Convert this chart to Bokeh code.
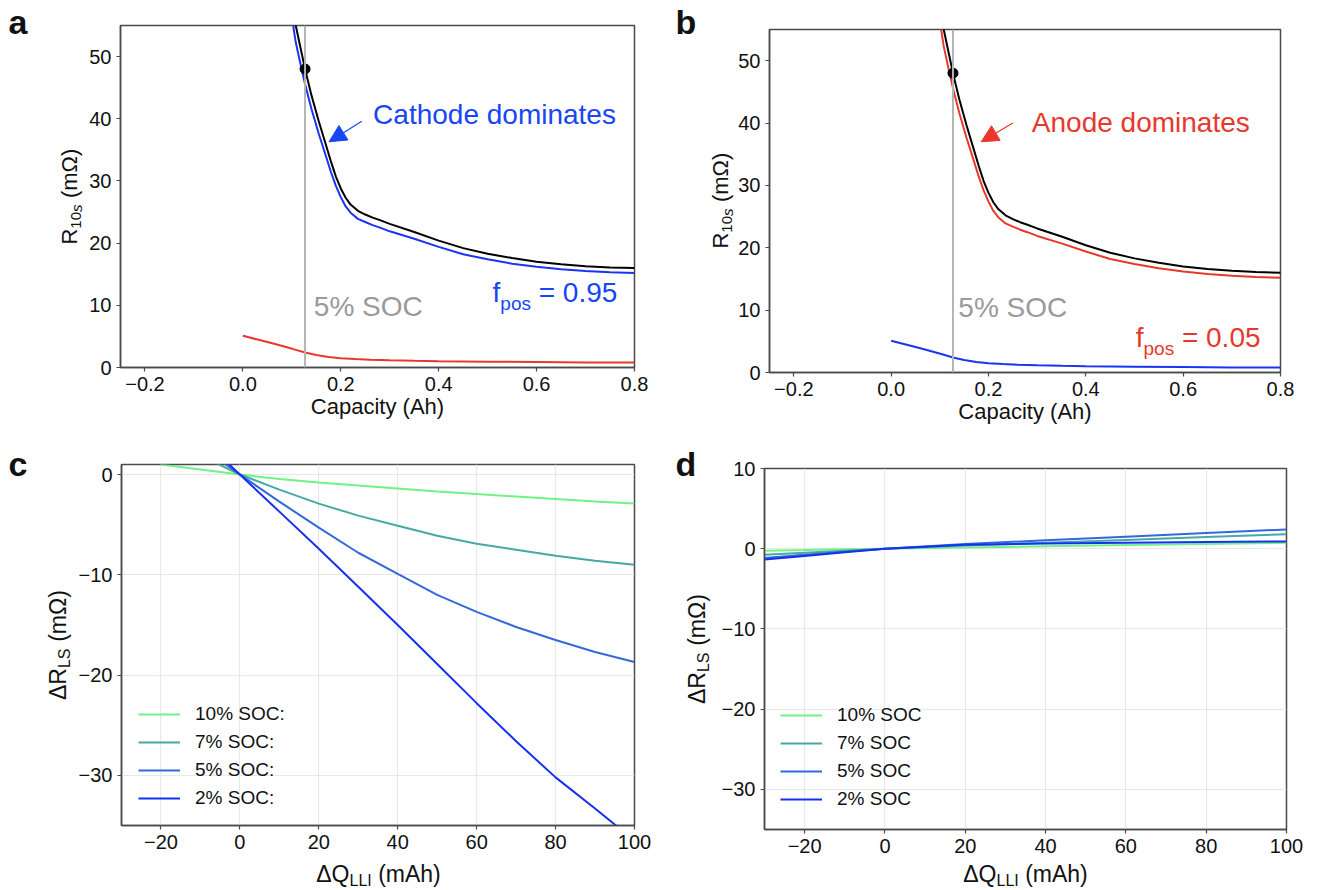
import math
from bokeh.plotting import figure
from bokeh.layouts import column, row
from bokeh.models import (Range1d, FixedTicker, CustomJSTickFormatter, Label, Span,
                          Arrow, NormalHead, Legend, LegendItem)
from bokeh.embed import file_html
from bokeh.resources import INLINE
from bokeh.core.validation import silence
from bokeh.core.validation.warnings import MISSING_RENDERERS

silence(MISSING_RENDERERS, True)

# ---------------- data ----------------
# panels a / b : 10 s resistance vs capacity
cap_total = [0.095, 0.108, 0.118, 0.127, 0.14, 0.155, 0.17, 0.18, 0.19, 0.2, 0.21, 0.22,
             0.235, 0.25, 0.265, 0.28, 0.3, 0.35, 0.4, 0.45, 0.5, 0.55, 0.6, 0.65, 0.7,
             0.75, 0.8]
r_total = [62.0, 55.0, 51.3, 48.0, 43.8, 39.6, 35.7, 33.1, 30.7, 28.8, 27.3, 26.2,
           25.2, 24.6, 24.1, 23.7, 23.1, 21.8, 20.4, 19.2, 18.3, 17.6, 17.0, 16.6, 16.3,
           16.1, 16.0]
r_major = [58.9, 52.3, 48.7, 45.6, 41.6, 37.6, 33.9, 31.4, 29.2, 27.4, 25.9, 24.9,
           23.9, 23.4, 22.9, 22.5, 21.9, 20.7, 19.4, 18.2, 17.4, 16.7, 16.2, 15.8, 15.5,
           15.3, 15.2]
cap_minor = [0.0, 0.03, 0.06, 0.09, 0.11, 0.127, 0.15, 0.175, 0.2, 0.23, 0.26, 0.3,
             0.35, 0.4, 0.5, 0.6, 0.7, 0.8]
r_minor = [5.1, 4.5, 3.9, 3.25, 2.8, 2.4, 2.0, 1.7, 1.5, 1.35, 1.25, 1.17,
           1.08, 1.02, 0.94, 0.87, 0.82, 0.80]
soc5_capacity = 0.127
soc5_resistance = 48.0
cap_ticks = [-0.2, 0.0, 0.2, 0.4, 0.6, 0.8]
r_ticks = [0, 10, 20, 30, 40, 50]

# panel c : fpos = 0.95
soc_labels_c = ["10% SOC:", "7% SOC:", "5% SOC:", "2% SOC:"]
c_x10 = [-20, -10, 0, 10, 20, 30, 40, 50, 60, 70, 80, 90, 100]
c_y10 = [1.0, 0.5, 0, -0.45, -0.8, -1.1, -1.4, -1.7, -1.95, -2.2, -2.45, -2.7, -2.9]
c_x7 = [-10, -5, 0, 10, 20, 30, 40, 50, 60, 70, 80, 90, 100]
c_y7 = [1.9, 0.95, 0, -1.5, -2.9, -4.1, -5.1, -6.1, -6.9, -7.5, -8.1, -8.6, -9.0]
c_x5 = [-5, 0, 10, 20, 30, 40, 50, 60, 70, 80, 90, 100]
c_y5 = [1.4, 0, -2.7, -5.3, -7.8, -9.9, -12.0, -13.7, -15.2, -16.5, -17.7, -18.7]
c_x2 = [-5, 0, 10, 20, 30, 40, 50, 60, 70, 80, 90, 100]
c_y2 = [1.85, 0, -3.7, -7.4, -11.2, -15.0, -18.9, -22.8, -26.6, -30.2, -33.3, -36.5]

# panel d : fpos = 0.05
soc_labels_d = ["10% SOC", "7% SOC", "5% SOC", "2% SOC"]
d_x = [-30, -20, -10, 0, 20, 40, 60, 80, 100]
d_y10 = [-0.25, -0.17, -0.08, 0, 0.15, 0.3, 0.45, 0.6, 0.75]
d_y7 = [-0.75, -0.5, -0.25, 0, 0.4, 0.75, 1.1, 1.45, 1.8]
d_y5 = [-1.15, -0.75, -0.38, 0, 0.6, 1.05, 1.5, 1.95, 2.4]
d_y2 = [-1.35, -0.9, -0.45, 0, 0.5, 0.65, 0.75, 0.85, 0.9]
dq_ticks = [-20, 0, 20, 40, 60, 80, 100]
c_yticks = [0, -10, -20, -30]
d_yticks = [10, 0, -10, -20, -30]

# ---------------- style ----------------
FONT = "Liberation Sans"
BLUE = "#1a34f2"
TXT_BLUE = "#1646f5"
RED = "#e8382c"
GRAY = "#9a9a9a"
SOC_COLORS = ["#70f284", "#46a9a5", "#3468dc", "#1430f5"]
FRAME = "#4a4a4a"
NB = "\u00a0"
K = 0.35  # distance from text-box centre to the baseline, in em

W_ = {'R': .722, '1': .556, '0': .556, 's': .5, ' ': .278, NB: .278, '(': .333, 'm': .833,
      'Ω': .768, ')': .333, 'Δ': .668, 'Q': .778, 'L': .556, 'I': .278, 'S': .667,
      'f': .278, 'p': .556, 'o': .556, '=': .584, '.': .278, '9': .556, '5': .556,
      'A': .667, 'h': .556}


def tw(t, size):
    return sum(W_.get(ch, .556) for ch in t) * size


def no_align(p):
    try:
        p.frame_align = False
    except Exception:
        pass


def make_fig(w, h, l, r, t, b, xr, yr, xt, yt, dec, grid):
    p = figure(width=w, height=h, x_range=Range1d(*xr), y_range=Range1d(*yr),
               output_backend="svg", toolbar_location=None, title=None,
               min_border_left=l, min_border_right=r, min_border_top=t, min_border_bottom=b)
    no_align(p)
    p.background_fill_color = "white"
    p.border_fill_color = "white"
    p.outline_line_color = FRAME
    p.outline_line_width = 1.5
    p.outline_line_alpha = 1
    p.xaxis.ticker = FixedTicker(ticks=xt)
    p.yaxis.ticker = FixedTicker(ticks=yt)
    p.xaxis.formatter = CustomJSTickFormatter(
        code="return (tick < -1e-9 ? '\u2212' : '') + Math.abs(tick).toFixed(%d);" % dec)
    p.yaxis.formatter = CustomJSTickFormatter(
        code="return (tick < -1e-9 ? '\u2212' : '') + Math.abs(tick).toFixed(0);")
    for ax in (p.xaxis[0], p.yaxis[0]):
        ax.axis_line_color = FRAME
        ax.axis_line_width = 1.5
        ax.major_tick_line_color = FRAME
        ax.major_tick_line_width = 1.2
        ax.major_tick_in = 0
        ax.major_tick_out = 4
        ax.minor_tick_line_color = None
        ax.major_label_text_font = FONT
        ax.major_label_text_font_size = "20px"
        ax.major_label_text_color = "#111111"
        ax.major_label_standoff = 5
        ax.axis_label_text_font = FONT
        ax.axis_label_text_font_size = "22px"
        ax.axis_label_text_font_style = "normal"
        ax.axis_label_text_color = "#111111"
        ax.axis_label_standoff = 0
    if grid:
        p.grid.grid_line_color = "#e8e8e8"
        p.grid.grid_line_width = 1.2
    else:
        p.grid.visible = False
    return p


def helper(w, h):
    p = figure(width=w, height=h, x_range=Range1d(0, w), y_range=Range1d(0, h),
               x_axis_type=None, y_axis_type=None, output_backend="svg",
               toolbar_location=None, min_border=0, title=None)
    no_align(p)
    p.outline_line_color = None
    p.background_fill_color = "white"
    p.border_fill_color = "white"
    return p


def lab(p, text, x, y, size, color="#111111", style="normal", xo=0.0, yo=0.0):
    # horizontal text: (x, y) is the start of the baseline
    p.add_layout(Label(x=x, y=y, text=text, text_font=FONT,
                       text_font_size="%dpx" % size, text_color=color,
                       text_font_style=style, text_align="left",
                       text_baseline="middle", x_offset=xo, y_offset=yo + K * size))


def vlabel(p, parts, bx, cy):
    # rotated text reading bottom to top, baseline at x = bx, centred on cy
    total = sum(tw(t, s) for t, s, _, _ in parts)
    y = cy - total / 2
    for t, s, sh, st in parts:
        w = tw(t, s)
        p.add_layout(Label(x=bx + sh - K * s, y=y + w / 2, text=t, text_font=FONT,
                           text_font_size="%dpx" % s, text_color="#111111",
                           text_font_style=st, angle=math.pi / 2, text_align="center",
                           text_baseline="middle"))
        y += w


def hlabel(p, parts, cx, by):
    total = sum(tw(t, s) for t, s, _, _ in parts)
    x = cx - total / 2
    for t, s, sh, st in parts:
        lab(p, t, x, by - sh, s, style=st)
        x += tw(t, s)


def fpos(p, value_text, xr, yb, color):
    parts = [("f", 28, 0), ("pos", 19, 8), (NB + "=" + NB + value_text, 28, 0)]
    total = sum(tw(t, s) for t, s, _ in parts)
    off = -total
    for t, s, sh in parts:
        lab(p, t, xr, yb, s, color=color, xo=off, yo=-sh)
        off += tw(t, s)


# ---------------- panels a and b ----------------
def resistance_panel(w, l, r, t, b, major_color, minor_color, note, note_color,
                     fval, note_xy, arrow_xy, soc_xy, f_xy):
    p = make_fig(w, 440, l, r, t, b, (-0.25, 0.8), (0, 55), cap_ticks, r_ticks, 1, False)
    p.add_layout(Span(location=soc5_capacity, dimension="height", line_color="#b4b4b4",
                      line_width=2))
    p.line(cap_minor, r_minor, line_color=minor_color, line_width=2)
    p.line(cap_total, r_major, line_color=major_color, line_width=2)
    p.line(cap_total, r_total, line_color="black", line_width=2)
    p.scatter([soc5_capacity], [soc5_resistance], size=10, color="black")
    p.add_layout(Arrow(end=NormalHead(size=17, fill_color=note_color, line_color=note_color),
                       x_start=arrow_xy[0], y_start=arrow_xy[1],
                       x_end=arrow_xy[2], y_end=arrow_xy[3],
                       line_color=note_color, line_width=1.2))
    lab(p, note, note_xy[0], note_xy[1], 28, color=note_color)
    lab(p, "5% SOC", soc_xy[0], soc_xy[1], 28, color=GRAY)
    fpos(p, fval, f_xy[0], f_xy[1], note_color)
    p.xaxis.axis_label = "Capacity (Ah)"
    return p


R_PARTS = [("R", 22, 0, "normal"), ("10", 15, 4, "normal"), ("s", 15, 4, "italic"),
           (NB + "(mΩ)", 22, 0, "normal")]
DR_PARTS = [("ΔR", 23, 0, "normal"), ("LS", 16, 4, "normal"), (NB + "(mΩ)", 23, 0, "normal")]
DQ_PARTS = [("ΔQ", 23, 0, "normal"), ("LLI", 16, 4, "normal"), (NB + "(mAh)", 23, 0, "normal")]

pa = resistance_panel(574, 33, 26, 25, 73, BLUE, RED, "Cathode dominates", TXT_BLUE,
                      "0.95", (0.266, 39.1), (0.243, 39.6, 0.176, 36.3),
                      (0.145, 8.3), (0.765, 10.5))
pb = resistance_panel(575, 33, 30, 29, 68, RED, BLUE, "Anode dominates", RED,
                      "0.05", (0.289, 38.5), (0.250, 40.0, 0.185, 37.0),
                      (0.138, 8.8), (0.759, 4.0))

ya = helper(86, 440)
vlabel(ya, R_PARTS, 77, 440 - 196)
lab(ya, "a", 8, 440 - 33, 34, style="bold")

yb = helper(75, 440)
vlabel(yb, R_PARTS, 68, 440 - 200)
lab(yb, "b", 15, 440 - 33, 34, style="bold")


# ---------------- panels c and d ----------------
def dr_panel(w, l, r, t, b, yr, yt, series, labels, loc):
    p = make_fig(w, 421, l, r, t, b, (-30, 100), yr, dq_ticks, yt, 0, True)
    items = []
    for (xs, ys), col, name in zip(series, SOC_COLORS, labels):
        rr = p.line(xs, ys, line_color=col, line_width=2)
        items.append(LegendItem(label=name, renderers=[rr]))
    leg = Legend(items=items, location=loc, background_fill_alpha=0,
                 border_line_alpha=0, padding=0, margin=0, spacing=6, glyph_width=42,
                 glyph_height=20, label_height=20, label_standoff=15,
                 label_text_font=FONT, label_text_font_size="19px",
                 label_text_color="#111111")
    p.add_layout(leg)
    return p


pc = dr_panel(586, 47, 26, 24, 36, (-35, 1), c_yticks,
              [(c_x10, c_y10), (c_x7, c_y7), (c_x5, c_y5), (c_x2, c_y2)],
              soc_labels_c, (17, 16))
pd_ = dr_panel(594, 48, 24, 28, 32, (-35, 10), d_yticks,
               [(d_x, d_y10), (d_x, d_y7), (d_x, d_y5), (d_x, d_y2)],
               soc_labels_d, (16, 19))

yc = helper(74, 421)
vlabel(yc, DR_PARTS, 66, 421 - (644.5 - 440))
lab(yc, "c", 8, 421 - (475 - 440), 34, style="bold")

yd = helper(56, 421)
vlabel(yd, DR_PARTS, 45, 421 - (648.5 - 440))
lab(yd, "d", 15, 421 - (475 - 440), 34, style="bold")

xcd = helper(1310, 29)
hlabel(xcd, DQ_PARTS, 378, 890 - 882)
hlabel(xcd, DQ_PARTS, 1025, 890 - 882)

layout = column(row(ya, pa, yb, pb, spacing=0),
                row(yc, pc, yd, pd_, spacing=0),
                xcd, spacing=0)
open("out.html", "w").write(file_html(layout, INLINE))
